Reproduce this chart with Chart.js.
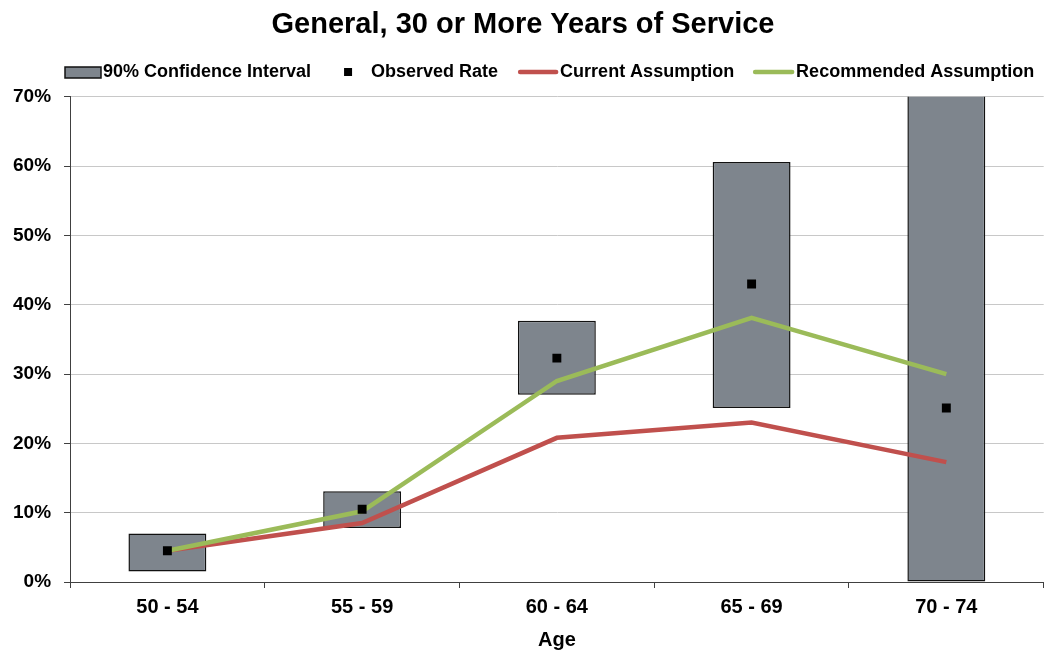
<!DOCTYPE html>
<html>
<head>
<meta charset="utf-8">
<script src="https://cdn.jsdelivr.net/npm/chart.js@4.4.1/dist/chart.umd.min.js"></script>
<style>
  html, body { margin: 0; padding: 0; background: #fff; }
  #wrap { width: 1050px; height: 652px; }
</style>
</head>
<body>
<div id="wrap"><canvas id="rates"></canvas></div>
<script>
// retirement rates by age band, 30+ years of service
const ageGroups = ['50 - 54', '55 - 59', '60 - 64', '65 - 69', '70 - 74'];
const ciLow = [0.015, 0.078, 0.270, 0.251, 0.000];
const ciHigh = [0.070, 0.131, 0.377, 0.606, 0.850];
const observedRate = [0.045, 0.105, 0.323, 0.430, 0.251];
const currentAssumption = [0.045, 0.085, 0.208, 0.230, 0.173];
const recommendedAssumption = [0.045, 0.102, 0.290, 0.381, 0.300];
const yMax = 0.7;
const yStep = 0.1;

const ciFill = '#7e858d';
const redLine = '#c0504d';
const greenLine = '#9bbb59';
const fontFamily = '"Liberation Sans", Arial, sans-serif';

Chart.defaults.font.family = fontFamily;
Chart.defaults.color = '#000';

// legend row under the title, drawn by hand so each swatch keeps its own shape
const legendItems = [
  { text: '90% Confidence Interval', kind: 'box', color: ciFill, before: 0, width: 36, gap: 2 },
  { text: 'Observed Rate', kind: 'point', color: '#000', before: 33, width: 8, gap: 19 },
  { text: 'Current Assumption', kind: 'line', color: redLine, before: 20, width: 40, gap: 2 },
  { text: 'Recommended Assumption', kind: 'line', color: greenLine, before: 19, width: 41, gap: 2 }
];

const topLegend = {
  id: 'topLegend',
  afterDraw(chart) {
    const ctx = chart.ctx;
    const y = 72;
    let x = 65;
    ctx.save();
    ctx.font = 'bold 18px ' + fontFamily;
    ctx.textBaseline = 'middle';
    ctx.fillStyle = '#000';
    legendItems.forEach(item => {
      x += item.before;
      if (item.kind === 'box') {
        ctx.fillStyle = item.color;
        ctx.fillRect(x, y - 5, item.width, 11);
        ctx.strokeStyle = '#111';
        ctx.lineWidth = 1.5;
        ctx.strokeRect(x, y - 5, item.width, 11);
      } else if (item.kind === 'point') {
        ctx.fillStyle = item.color;
        ctx.fillRect(x, y - 4, item.width, item.width);
      } else {
        ctx.strokeStyle = item.color;
        ctx.lineWidth = 4.5;
        ctx.lineCap = 'round';
        ctx.beginPath();
        ctx.moveTo(x + 2, y);
        ctx.lineTo(x + item.width - 2, y);
        ctx.stroke();
      }
      x += item.width + item.gap;
      ctx.fillStyle = '#000';
      ctx.fillText(item.text, x, y);
      x += ctx.measureText(item.text).width;
    });
    ctx.restore();
  }
};

const ctx = document.getElementById('rates').getContext('2d');
const chart = new Chart(ctx, {
  type: 'bar',
  data: {
    labels: ageGroups,
    datasets: [
      {
        type: 'line',
        label: 'Observed Rate',
        data: observedRate,
        showLine: false,
        pointStyle: 'rect',
        pointRadius: 6.3,
        pointBackgroundColor: '#000',
        pointBorderWidth: 0,
        order: 0
      },
      {
        type: 'line',
        label: 'Recommended Assumption',
        data: recommendedAssumption,
        borderColor: greenLine,
        borderWidth: 4.5,
        pointRadius: 0,
        tension: 0,
        order: 1
      },
      {
        type: 'line',
        label: 'Current Assumption',
        data: currentAssumption,
        borderColor: redLine,
        borderWidth: 4.5,
        pointRadius: 0,
        tension: 0,
        order: 2
      },
      {
        label: '90% Confidence Interval',
        data: ageGroups.map((_, i) => [ciLow[i], ciHigh[i]]),
        backgroundColor: ciFill,
        borderColor: '#111',
        borderWidth: 1.5,
        borderSkipped: false,
        barPercentage: 0.4,
        categoryPercentage: 1.0,
        order: 3
      }
    ]
  },
  options: {
    responsive: true,
    maintainAspectRatio: false,
    animation: false,
    layout: { padding: { left: 0, right: 4, bottom: 0 } },
    plugins: {
      legend: { display: false },
      tooltip: { enabled: false },
      title: {
        display: true,
        text: 'General, 30 or More Years of Service',
        font: { size: 29, weight: 'bold' },
        color: '#000',
        padding: { top: 8, bottom: 54 }
      }
    },
    scales: {
      x: {
        grid: {
          drawOnChartArea: false,
          drawTicks: true,
          tickLength: 6,
          tickColor: '#404040',
          offset: true
        },
        border: { color: '#404040', width: 1 },
        ticks: { font: { size: 20, weight: 'bold' }, color: '#000', padding: 7 },
        title: {
          display: true,
          text: 'Age',
          font: { size: 20, weight: 'bold' },
          color: '#000',
          padding: { top: 2, bottom: 0 }
        }
      },
      y: {
        min: 0,
        max: yMax,
        ticks: {
          stepSize: yStep,
          font: { size: 19, weight: 'bold' },
          color: '#000',
          padding: 13,
          callback: v => Math.round(v * 100) + '%'
        },
        grid: {
          color: '#c8c8c8',
          tickColor: '#404040',
          tickLength: 6
        },
        border: { color: '#404040', width: 1 }
      }
    }
  },
  plugins: [topLegend]
});
</script>
</body>
</html>
